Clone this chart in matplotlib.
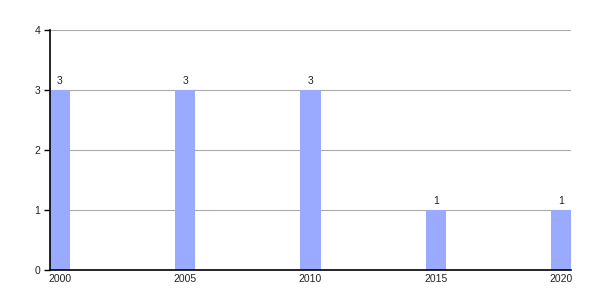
import matplotlib
matplotlib.use("Agg")
import matplotlib.pyplot as plt

years = [2000, 2005, 2010, 2015, 2020]
counts = [3, 3, 3, 1, 1]
year_labels = ['2000', '2005', '2010', '2015', '2020']

plt.rcParams['font.family'] = ['Liberation Sans', 'DejaVu Sans']

fig = plt.figure(figsize=(6, 3), dpi=100)
ax = fig.add_axes([50 / 600, 0.1, 521 / 600, 0.8])

bars = ax.bar(years, counts, width=0.8, color='#99aaff', zorder=2)
for b, v in zip(bars, counts):
    ax.text(b.get_x() + b.get_width() / 2, v + 0.07, str(v),
            ha='center', va='bottom', fontsize=7.5, color='#222222')

ax.set_xlim(1999.6, 2020.4)
ax.set_ylim(0, 4)
ax.set_yticks([0, 1, 2, 3, 4])
ax.set_xticks(years)
ax.set_xticklabels(year_labels)
ax.yaxis.grid(True, color='#aaaaaa', linewidth=0.8, zorder=0)
ax.set_axisbelow(True)

for s in ['top', 'right']:
    ax.spines[s].set_visible(False)
ax.spines['left'].set_linewidth(1.2)
ax.spines['bottom'].set_linewidth(1.2)
ax.tick_params(axis='x', length=0, pad=3, labelsize=7.5, colors='#222222')
ax.tick_params(axis='y', length=4, width=1, pad=3, labelsize=7.5, colors='#222222')
ax.tick_params(axis='y', color='black')

fig.savefig('out.png', dpi=100)
